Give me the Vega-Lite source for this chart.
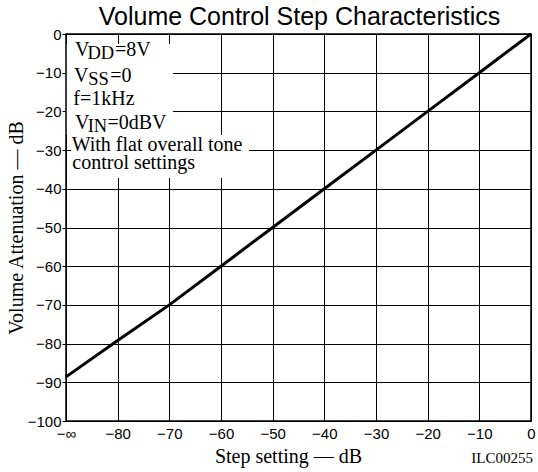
{
  "$schema": "https://vega.github.io/schema/vega-lite/v6.json",
  "width": 465,
  "height": 387,
  "autosize": {"type": "none"},
  "padding": {"left": 66, "top": 34, "right": 7, "bottom": 51},
  "background": "white",
  "title": {
    "text": "Volume Control Step Characteristics",
    "font": "Liberation Sans",
    "fontSize": 25,
    "fontWeight": "normal",
    "color": "black",
    "anchor": "middle",
    "frame": "group",
    "offset": -3,
    "dx": 1
  },
  "config": {
    "view": {"stroke": "black", "strokeWidth": 1.5},
    "axis": {
      "grid": true,
      "gridColor": "black",
      "gridOpacity": 1,
      "gridWidth": 1,
      "domain": false,
      "labelFont": "Liberation Sans",
      "labelFontSize": 15,
      "labelColor": "black",
      "labelFlush": false,
      "labelOverlap": false,
      "titleFont": "Liberation Serif",
      "titleFontSize": 20,
      "titleFontWeight": "normal",
      "titleColor": "black"
    }
  },
  "datasets": {
    "curve": [
      {"x": -90, "y": -88.6},
      {"x": -80, "y": -79.2},
      {"x": -70, "y": -70},
      {"x": -60, "y": -60},
      {"x": -50, "y": -50},
      {"x": -40, "y": -40},
      {"x": -30, "y": -30},
      {"x": -20, "y": -20},
      {"x": -10, "y": -10},
      {"x": 0, "y": 0}
    ],
    "box": [
      {"x": -89.85, "x2": -69.3, "y": -2.6, "y2": -26.1},
      {"x": -89.0, "x2": -54.6, "y": -26.1, "y2": -37.2}
    ],
    "notes": [
      {"x": -88.26, "y": -5.68, "t": "V"},
      {"x": -80.52, "y": -5.68, "t": "=8V"},
      {"x": -88.45, "y": -12.33, "t": "V"},
      {"x": -81.42, "y": -12.33, "t": "=0"},
      {"x": -88.59, "y": -18.35, "t": "f=1kHz"},
      {"x": -88.26, "y": -24.63, "t": "V"},
      {"x": -81.98, "y": -24.63, "t": "=0dBV"},
      {"x": -88.9, "y": -30.16, "t": "With flat overall tone"},
      {"x": -88.78, "y": -34.96, "t": "control settings"}
    ],
    "subs": [
      {"x": -85.85, "y": -6.54, "t": "DD"},
      {"x": -85.7, "y": -13.18, "t": "SS"},
      {"x": -85.8, "y": -25.45, "t": "IN"}
    ],
    "code": [
      {"x": 0, "y": -110.85, "t": "ILC00255"}
    ]
  },
  "encoding": {
    "x": {
      "field": "x",
      "type": "quantitative",
      "scale": {"domain": [-90, 0], "nice": false, "zero": false},
      "axis": {
        "values": [-90, -80, -70, -60, -50, -40, -30, -20, -10, 0],
        "labelExpr": "datum.value === -90 ? '−∞' : (datum.value === 0 ? '0' : '−' + (-datum.value))",
        "ticks": false,
        "labelPadding": 5,
        "title": "Step setting — dB",
        "titleX": 222,
        "titleY": 41.4,
        "titleAlign": "center",
        "titleBaseline": "alphabetic"
      }
    },
    "y": {
      "field": "y",
      "type": "quantitative",
      "scale": {"domain": [-100, 0], "nice": false, "zero": false},
      "axis": {
        "values": [-100, -90, -80, -70, -60, -50, -40, -30, -20, -10, 0],
        "labelExpr": "datum.value === 0 ? '0' : '−' + (-datum.value)",
        "ticks": true,
        "tickSize": 4,
        "tickColor": "black",
        "tickWidth": 1,
        "labelPadding": 1,
        "title": "Volume Attenuation — dB",
        "titleAngle": -90,
        "titleX": -44,
        "titleY": 193.5,
        "titleAlign": "center",
        "titleBaseline": "alphabetic"
      }
    }
  },
  "layer": [
    {
      "data": {"name": "box"},
      "mark": {"type": "rect", "fill": "white", "stroke": null},
      "encoding": {
        "x2": {"field": "x2"},
        "y2": {"field": "y2"}
      }
    },
    {
      "data": {"name": "curve"},
      "mark": {"type": "line", "color": "black", "strokeWidth": 3}
    },
    {
      "data": {"name": "notes"},
      "mark": {"type": "text", "font": "Liberation Serif", "fontSize": 20, "align": "left", "baseline": "alphabetic", "color": "black"},
      "encoding": {"text": {"field": "t"}}
    },
    {
      "data": {"name": "subs"},
      "mark": {"type": "text", "font": "Liberation Serif", "fontSize": 18.5, "align": "left", "baseline": "alphabetic", "color": "black"},
      "encoding": {"text": {"field": "t"}}
    },
    {
      "data": {"name": "code"},
      "mark": {"type": "text", "font": "Liberation Serif", "fontSize": 15, "align": "right", "baseline": "alphabetic", "color": "black", "dx": 2},
      "encoding": {"text": {"field": "t"}}
    }
  ]
}
